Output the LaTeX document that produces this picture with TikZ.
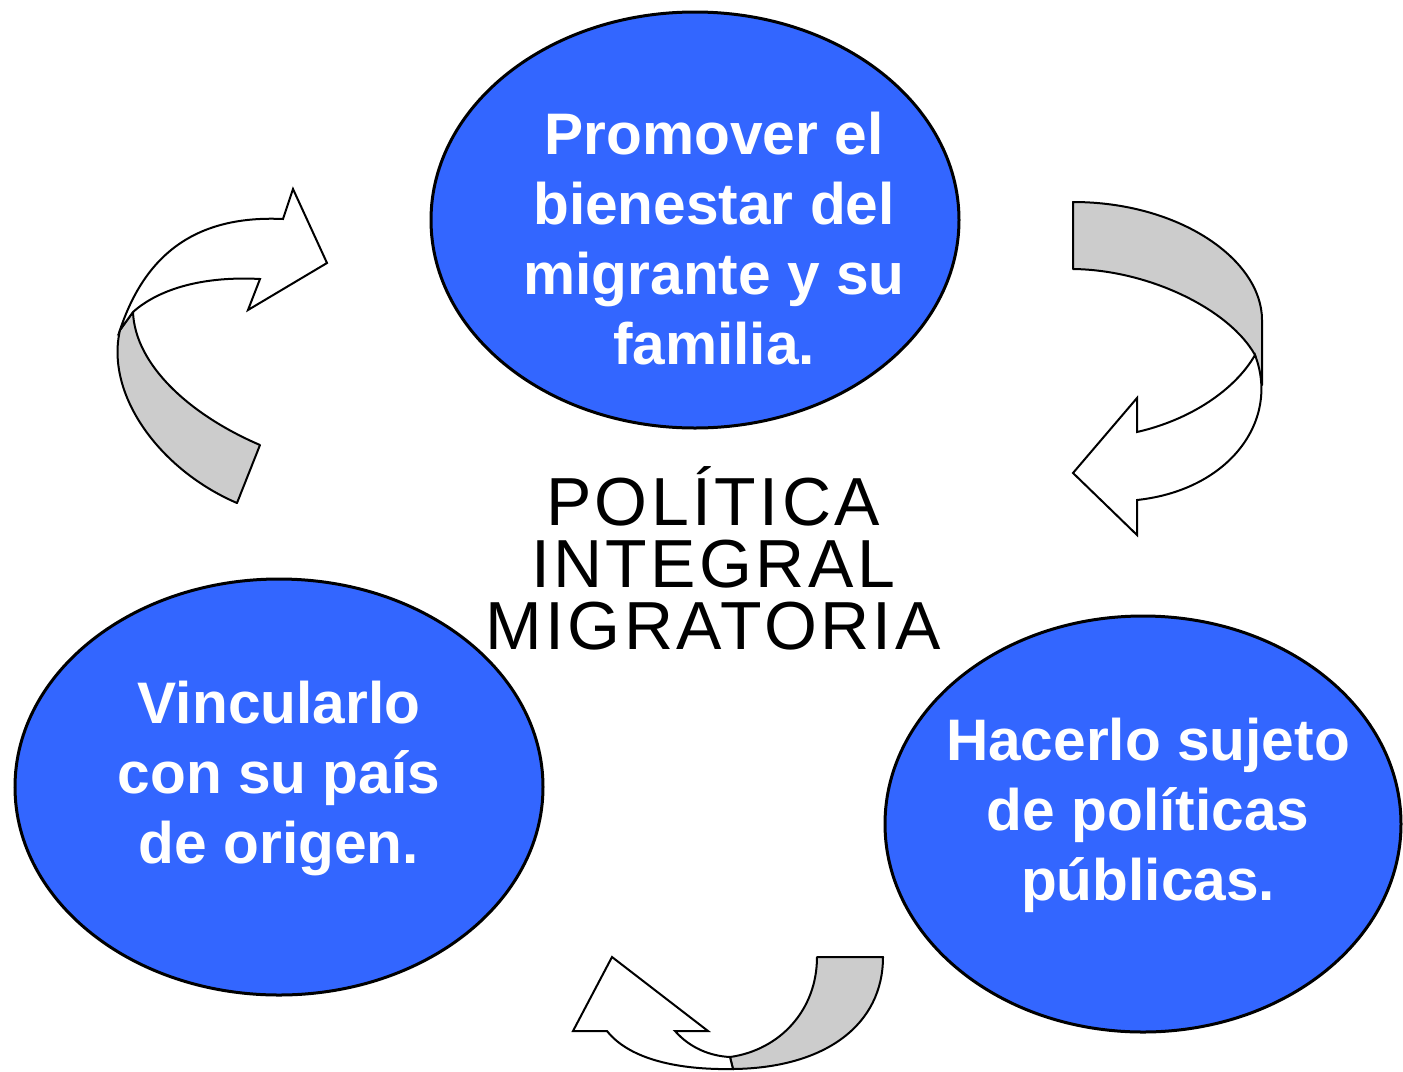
\documentclass[tikz,border=0pt]{standalone}
\usepackage{fontspec}
\setmainfont{Liberation Sans}
\usetikzlibrary{shapes.geometric}
\definecolor{azul}{HTML}{3366FF}
\definecolor{gris}{HTML}{CCCCCC}
\tikzset{
  circulo/.style={ellipse,draw,line width=1.5pt,fill=azul,inner sep=0pt},
  etiqueta/.style={align=center,text=white,font=\fontsize{29.3}{35}\selectfont\bfseries},
  banda/.style={draw,line width=1pt,fill=gris,line join=round},
  punta/.style={draw,line width=1pt,fill=white,line join=miter}
}
\begin{document}
\begin{tikzpicture}[x=0.5pt,y=-0.5pt]
  \useasboundingbox (0,0) rectangle (1403,1071);

  % the three aims
  \node[circulo,minimum width=264pt,minimum height=208pt] (1) at (695,220) {};
  \node[circulo,minimum width=264pt,minimum height=208pt] (2) at (279,787) {};
  \node[circulo,minimum width=258pt,minimum height=208pt] (3) at (1143,824) {};

  \node[etiqueta] (t1) at (714,239) {Promover el\\bienestar del\\migrante y su\\familia.};
  \node[etiqueta] (t2) at (279,778) {Vincularlo\\con su país\\de origen.};
  \node[etiqueta] (t3) at (1148,815) {Hacerlo sujeto\\de políticas\\públicas.};

  \node[align=center,font=\fontsize{34}{31}\selectfont\addfontfeature{LetterSpace=5}] (c) at (713,558)
    {POLÍTICA\\INTEGRAL\\MIGRATORIA};

  % curved arrows
  % upper left
  \draw[banda] (120,330) .. controls (105,395) and (160,470) .. (237,503)
    -- (260,445) .. controls (190,415) and (135,365) .. (133,312) -- cycle;
  \draw[punta] (120,330) .. controls (145,255) and (195,215) .. (283,219)
    -- (293,189) -- (327,263) -- (248,310) -- (260,279)
    .. controls (205,276) and (160,288) .. (133,312) -- cycle;

  % right
  \draw[banda] (1073,202) .. controls (1180,202) and (1262,260) .. (1262,320)
    -- (1262,385) -- (1255,355)
    .. controls (1230,310) and (1150,270) .. (1073,269) -- cycle;
  \draw[punta] (1255,355) .. controls (1280,420) and (1230,490) .. (1137,500)
    -- (1137,535) -- (1073,473) -- (1137,398) -- (1137,432)
    .. controls (1190,420) and (1235,390) .. (1255,355) -- cycle;

  % bottom
  \draw[banda] (817,957) -- (883,957) .. controls (883,1025) and (825,1068) .. (733,1069)
    -- (730,1057) .. controls (780,1050) and (817,1010) .. (817,957) -- cycle;
  \draw[punta] (612,957) -- (708,1031) -- (675,1031)
    .. controls (690,1048) and (710,1056) .. (730,1057) -- (733,1069)
    .. controls (680,1070) and (630,1060) .. (607,1031) -- (573,1031) -- cycle;

\end{tikzpicture}
\end{document}
